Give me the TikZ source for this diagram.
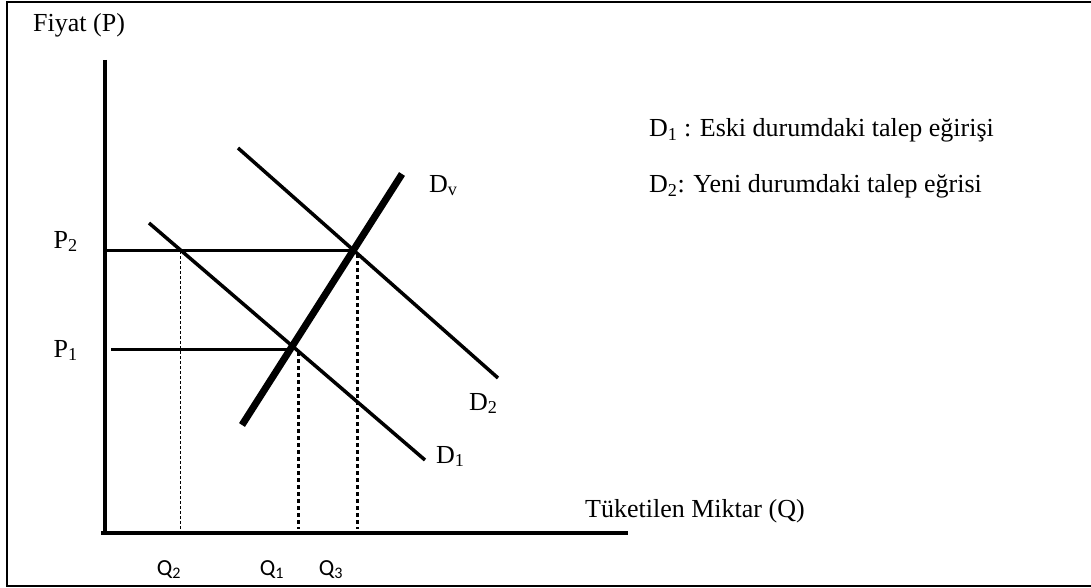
\documentclass[tikz,border=0pt]{standalone}
\usepackage{fontspec}
\setmainfont{Liberation Serif}
\newfontfamily\qfont{Carlito}
\begin{document}
\begin{tikzpicture}[x=1pt,y=-1pt,
  frame/.style={line width=2pt},
  axis/.style={line width=3.5pt},
  pline/.style={line width=3pt},
  demand/.style={line width=3.5pt},
  vdemand/.style={line width=7pt},
  thindash/.style={line width=0.9pt,dash pattern=on 3pt off 2pt},
  thickdot/.style={line width=3pt,dash pattern=on 3.5pt off 3.5pt},
  lbl/.style={font=\fontsize{26}{31}\selectfont,inner sep=0pt},
  qlbl/.style={font=\qfont\fontsize{23}{28}\selectfont,inner sep=0pt}]
\useasboundingbox (0,0) rectangle (1091,588);
% frame
\draw[frame] (1092,2) -- (7,2) -- (7,586) -- (1092,586);
% axes
\coordinate (ytop) at (105,60);
\coordinate (origin) at (105,533);
\coordinate (xstart) at (101,533);
\coordinate (xend) at (628,533);
\draw[axis] (ytop) -- (origin);
\draw[axis] (xstart) -- (xend);
% demand curves
\coordinate (d1a) at (149,223);
\coordinate (d1b) at (425,460);
\coordinate (d2a) at (238,148);
\coordinate (d2b) at (498,378);
\coordinate (dva) at (242,425);
\coordinate (dvb) at (402,174);
\draw[demand] (d1a) -- (d1b);
\draw[demand] (d2a) -- (d2b);
\draw[vdemand] (dva) -- (dvb);
% price lines
\coordinate (p2a) at (107,250);
\coordinate (p2b) at (353,250);
\coordinate (p1a) at (111,349);
\coordinate (p1b) at (293,349);
\draw[pline] (p2a) -- (p2b);
\draw[pline] (p1a) -- (p1b);
% quantity lines
\coordinate (q2a) at (180.5,251);
\coordinate (q2b) at (180.5,532);
\coordinate (q1a) at (298,352);
\coordinate (q1b) at (298,529);
\coordinate (q3a) at (357,254);
\coordinate (q3b) at (357,529);
\draw[thindash] (q2a) -- (q2b);
\draw[thickdot] (q1a) -- (q1b);
\draw[thickdot] (q3a) -- (q3b);
% labels
\node[lbl,anchor=base west] (fiyat) at (33,32) {Fiyat (P)};
\node[lbl,anchor=base east] (P2) at (78,248) {P\textsubscript{2}};
\node[lbl,anchor=base east] (P1) at (78,357) {P\textsubscript{1}};
\node[lbl,anchor=base west] (Dv) at (429,192) {D\textsubscript{v}};
\node[lbl,anchor=base west] (D2) at (469,410) {D\textsubscript{2}};
\node[lbl,anchor=base west] (D1) at (436,463) {D\textsubscript{1}};
\node[lbl,anchor=base west] (leg1) at (649,137) {D\textsubscript{1} : Eski durumdaki talep eğirişi};
\node[lbl,anchor=base west] (leg2) at (649,193) {D\textsubscript{2}: Yeni durumdaki talep eğrisi};
\node[lbl,anchor=base west] (xlab) at (585,517) {Tüketilen Miktar (Q)};
\node[qlbl,anchor=base] (Q2) at (169,575) {Q\textsubscript{2}};
\node[qlbl,anchor=base] (Q1) at (272,575) {Q\textsubscript{1}};
\node[qlbl,anchor=base] (Q3) at (331,575) {Q\textsubscript{3}};
\end{tikzpicture}
\end{document}
